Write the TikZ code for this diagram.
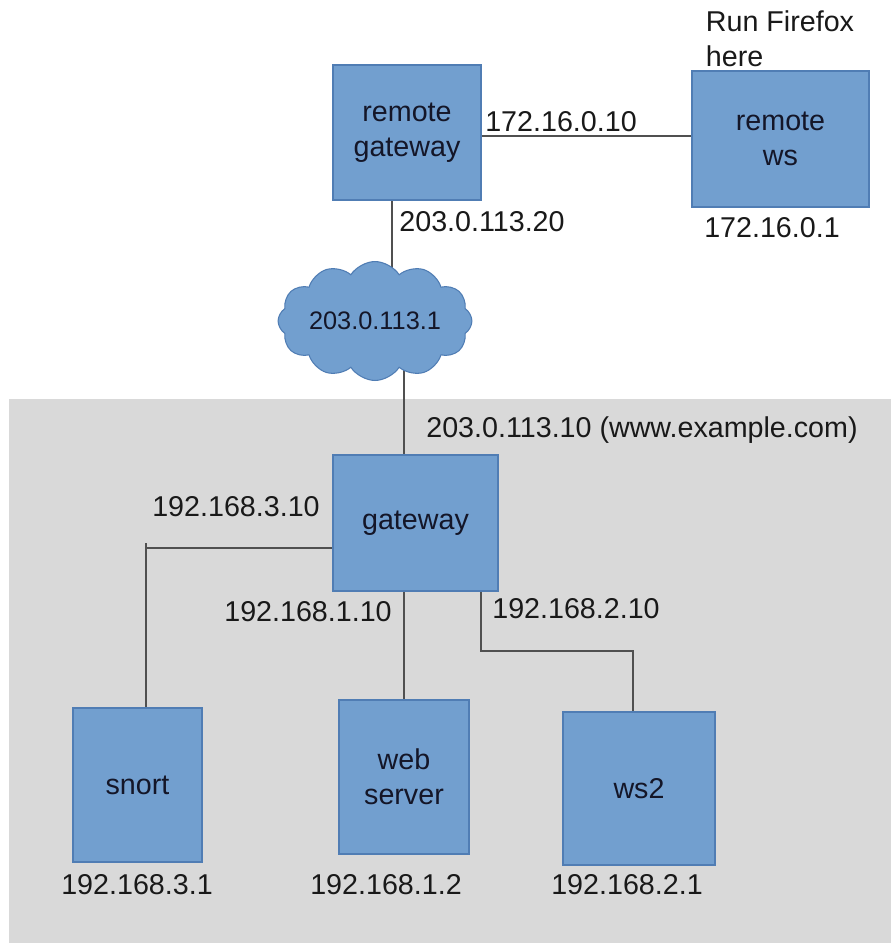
\documentclass[tikz,border=0pt]{standalone}
\usepackage{fontspec}
\setmainfont{Liberation Sans}
\usetikzlibrary{shapes.symbols}
\definecolor{boxfill}{RGB}{114,159,207}
\definecolor{boxline}{RGB}{80,125,180}
\definecolor{txtdark}{RGB}{20,22,40}
\definecolor{lbl}{RGB}{25,25,25}
\definecolor{conn}{RGB}{80,80,80}
\definecolor{region}{RGB}{217,217,217}
\pgfdeclarelayer{bg}
\pgfdeclarelayer{lines}
\pgfsetlayers{bg,lines,main}
\begin{document}
\begin{tikzpicture}[x=0.75pt,y=-0.75pt,
  hostbox/.style={draw=boxline,fill=boxfill,line width=0.8pt,inner sep=0pt,align=center,
    text=txtdark,font=\fontsize{21.5}{26}\selectfont},
  iplabel/.style={text=lbl,inner sep=0pt,font=\fontsize{21.5}{26}\selectfont},
  wire/.style={draw=conn,line width=1.1pt}]
\useasboundingbox (0,0) rectangle (891,943);
\begin{pgfonlayer}{bg}
\fill[white] (0,0) rectangle (891,943);
\fill[region] (9,399) rectangle (891,943);
\end{pgfonlayer}

% hosts
\node[hostbox,minimum width=111pt,minimum height=101.25pt] (rgw) at (407,132.5) {remote\\gateway};
\node[hostbox,minimum width=132.75pt,minimum height=102pt] (rws) at (780.5,139) {remote\\ws};
\node[hostbox,minimum width=123.75pt,minimum height=102pt] (gw) at (415.5,523) {gateway};
\node[hostbox,minimum width=96.75pt,minimum height=115.5pt] (snort) at (137.5,785) {snort};
\node[hostbox,minimum width=97.5pt,minimum height=115.5pt] (web) at (404,777) {web\\server};
\node[hostbox,minimum width=114pt,minimum height=114.75pt] (ws2) at (639,788.5) {ws2};
\node[cloud,cloud puffs=12,cloud puff arc=115,aspect=1.95,draw=boxline,fill=boxfill,line width=0.8pt,
  minimum width=141pt,minimum height=82pt,inner sep=0pt,text=txtdark,
  font=\fontsize{19}{22}\selectfont] (cloud) at (375,321) {203.0.113.1};

% labels
\node[iplabel,align=left] (firefox) at (780,39) {Run Firefox\\here};
\node[iplabel] (l1) at (561,122) {172.16.0.10};
\node[iplabel] (l2) at (772,228) {172.16.0.1};
\node[iplabel] (l3) at (482,222) {203.0.113.20};
\node[iplabel] (l4) at (642,430) {203.0.113.10 (www.example.com)};
\node[iplabel] (l5) at (236,507) {192.168.3.10};
\node[iplabel] (l6) at (308,612) {192.168.1.10};
\node[iplabel] (l7) at (576,609) {192.168.2.10};
\node[iplabel] (l8) at (137,885) {192.168.3.1};
\node[iplabel] (l9) at (386,885) {192.168.1.2};
\node[iplabel] (l10) at (627,885) {192.168.2.1};

% connector helper coordinates
\coordinate (xa) at (392,0);
\coordinate (xb) at (404,0);
\coordinate (ya) at (0,136);
\coordinate (yb) at (0,548);
\coordinate (tsnort) at (146,543);
\coordinate (xc) at (481,0);
\coordinate (bend1) at (481,651);
\coordinate (bend2) at (633,651);

\begin{pgfonlayer}{lines}
\draw[wire] (rgw.east |- ya) -- (rws.west |- ya);
\draw[wire] (rgw.south -| xa) -- (cloud.center -| xa);
\draw[wire] (cloud.center -| xb) -- (gw.north -| xb);
\draw[wire] (gw.west |- yb) -- (tsnort |- yb);
\draw[wire] (tsnort) -- (snort.north -| tsnort);
\draw[wire] (gw.south -| xb) -- (web.north -| xb);
\draw[wire] (gw.south -| xc) -- (bend1) -- (bend2) -- (ws2.north -| bend2);
\end{pgfonlayer}
\end{tikzpicture}
\end{document}
